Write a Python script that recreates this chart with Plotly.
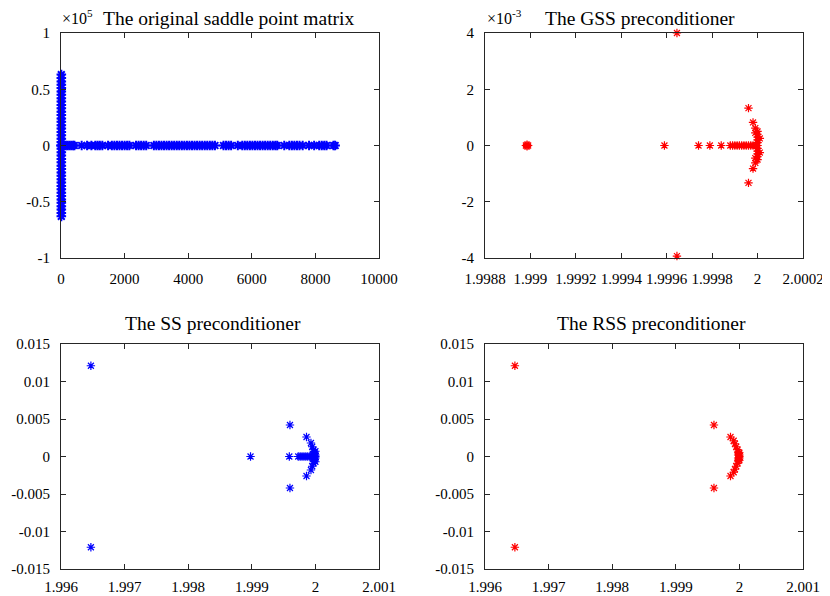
import plotly.graph_objects as go

# ---------------- data ----------------
# Top-left: original saddle point matrix (y in units of 1e5)
orig_imag_x = [10] * 43
orig_imag_y = [-0.63, -0.60, -0.57, -0.54, -0.51, -0.48, -0.45, -0.42, -0.39, -0.36, -0.33,
               -0.30, -0.27, -0.24, -0.21, -0.18, -0.15, -0.12, -0.09, -0.06, -0.03, 0.0,
               0.03, 0.06, 0.09, 0.12, 0.15, 0.18, 0.21, 0.24, 0.27, 0.30, 0.33, 0.36, 0.39,
               0.42, 0.45, 0.48, 0.51, 0.54, 0.57, 0.60, 0.63]
orig_real_x = [0, 50, 100, 150, 200, 260, 320, 380, 420, 650, 820, 955, 1080, 1150, 1220, 1300,
               1480, 1600, 1680, 1760, 1840, 1920, 2000, 2080, 2150, 2360, 2440, 2520, 2600,
               2680, 2920, 3000, 3080, 3160, 3240, 3320, 3400, 3480, 3560, 3640, 3720, 3800,
               3880, 3960, 4040, 4120, 4200, 4280, 4360, 4440, 4520, 4600, 4680, 4760, 4840,
               5110, 5190, 5270, 5350, 5560, 5700, 5780, 5860, 5940, 6020, 6100, 6180, 6260,
               6340, 6420, 6500, 6580, 6660, 6740, 6800, 7020, 7180, 7260, 7340, 7420, 7500,
               7600, 7800, 7960, 8120, 8200, 8280, 8350, 8570, 8620]
orig_real_y = [0] * len(orig_real_x)

# Top-right: GSS preconditioner (y in units of 1e-3)
gss_x = [1.99898, 1.998985, 1.998985, 1.99899, 1.99959, 1.999645, 1.999645,
         1.99974, 1.99979, 1.99984, 1.99988, 1.99989, 1.9999, 1.99991, 1.99992, 1.99993,
         1.99994, 1.99995, 1.99996, 1.99997, 1.99998, 1.99999, 2.0,
         1.99996, 1.99996, 1.99998, 1.99998, 1.99999, 1.99999, 2.0, 2.0, 2.0, 2.0,
         2.0, 2.0, 2.0, 2.0, 2.0, 2.0, 2.00001, 2.00001, 1.99999, 1.99999]
gss_y = [0, 0.03, -0.03, 0, 0, 4.0, -3.93,
         0, 0, 0, 0, 0, 0, 0, 0, 0,
         0, 0, 0, 0, 0, 0, 0,
         1.33, -1.33, 0.82, -0.82, 0.62, -0.62, 0.5, -0.5, 0.4, -0.4,
         0.3, -0.3, 0.2, -0.2, 0.1, -0.1, 0.25, -0.25, 0.45, -0.45]

# Bottom-left: SS preconditioner
ss_x = [1.99647, 1.99647, 1.99898, 1.9996, 1.9996, 1.99959, 1.99986, 1.99986,
        1.99973, 1.99976, 1.99979, 1.99982, 1.99985, 1.99988, 1.99991,
        1.99993, 1.99993, 1.99995, 1.99995, 1.99996, 1.99997, 1.99997,
        1.99998, 1.99998, 1.99999, 1.99999, 2.0, 2.0, 2.0, 2.0, 2.0, 1.99996, 1.99996]
ss_y = [0.0121, -0.0121, 0, 0.0042, -0.0042, 0, 0.0026, -0.0026,
        0, 0, 0, 0, 0, 0, 0,
        0.0018, -0.0018, 0.0013, -0.0013, 0, 0.0009, -0.0009,
        0.0006, -0.0006, 0.0004, -0.0004, 0.0002, -0.0002, 0, 0.0007, -0.0007, 0.0003, -0.0003]

# Bottom-right: RSS preconditioner
rss_x = [1.99647, 1.99647, 1.9996, 1.9996, 1.99986, 1.99986, 1.99991, 1.99991,
         1.99993, 1.99993, 1.99995, 1.99995, 1.99997, 1.99997, 1.99998, 1.99998,
         1.99999, 1.99999, 2.0, 2.0, 2.0, 1.99998, 1.99998, 2.0, 2.0]
rss_y = [0.0121, -0.0121, 0.0042, -0.0042, 0.0026, -0.0026, 0.0021, -0.0021,
         0.0017, -0.0017, 0.0013, -0.0013, 0.0009, -0.0009, 0.0006, -0.0006,
         0.0004, -0.0004, 0.0002, -0.0002, 0, 0.0002, -0.0002, 0.0005, -0.0005]

titles = ["The original saddle point matrix", "The GSS preconditioner",
          "The SS preconditioner", "The RSS preconditioner"]

tl_xticks = [0, 2000, 4000, 6000, 8000, 10000]
tl_yticks = [-1, -0.5, 0, 0.5, 1]
tl_yticktext = ["-1", "-0.5", "0", "0.5", "1"]
tr_xticks = [1.9988, 1.999, 1.9992, 1.9994, 1.9996, 1.9998, 2.0, 2.0002]
tr_xticktext = ["1.9988", "1.999", "1.9992", "1.9994", "1.9996", "1.9998", "2", "2.0002"]
tr_yticks = [-4, -2, 0, 2, 4]
tr_yticktext = ["-4", "-2", "0", "2", "4"]
b_xticks = [1.996, 1.997, 1.998, 1.999, 2.0, 2.001]
b_xticktext = ["1.996", "1.997", "1.998", "1.999", "2", "2.001"]
b_yticks = [-0.015, -0.01, -0.005, 0, 0.005, 0.01, 0.015]
b_yticktext = ["-0.015", "-0.01", "-0.005", "0", "0.005", "0.01", "0.015"]

# ---------------- figure ----------------
OFF = 8                      # page body margin in the browser
W, H = 830 - OFF, 596 - OFF
FONT = "Liberation Serif"
BLUE = "#0000FF"
RED = "#FF0000"


def mk(x, y, color, xa, ya, size=7, width=1.2):
    return go.Scatter(x=x, y=y, mode="markers", xaxis=xa, yaxis=ya, cliponaxis=False,
                      showlegend=False, hoverinfo="skip",
                      marker=dict(symbol="asterisk-open", size=size, color=color,
                                  line=dict(color=color, width=width)))


fig = go.Figure()
fig.add_trace(mk(orig_real_x, orig_real_y, BLUE, "x", "y", size=8, width=2))
fig.add_trace(mk(orig_imag_x, orig_imag_y, BLUE, "x", "y", size=8, width=2))
fig.add_trace(mk(gss_x, gss_y, RED, "x2", "y2"))
fig.add_trace(mk(ss_x, ss_y, BLUE, "x3", "y3"))
fig.add_trace(mk(rss_x, rss_y, RED, "x4", "y4"))


def px_x(p):
    return (p - OFF) / W


def px_y(p):
    return 1 - (p - OFF) / H


dom_x_left = [px_x(61), px_x(379)]
dom_x_right = [px_x(485), px_x(803)]
dom_y_top = [px_y(258), px_y(33)]
dom_y_bot = [px_y(569), px_y(344)]


def axis(dom, rng, tv, tt, anchor, standoff):
    return dict(showline=True, linecolor="#262626", linewidth=1, mirror="ticks",
                ticks="inside", ticklen=5, tickwidth=1, tickcolor="#262626",
                showgrid=False, zeroline=False, automargin=False, tickangle=0,
                tickfont=dict(family=FONT, size=15, color="#000000"),
                domain=dom, range=rng, tickmode="array", tickvals=tv, ticktext=tt,
                anchor=anchor, ticklabelstandoff=standoff)


fig.update_layout(
    width=W, height=H,
    margin=dict(l=0, r=0, t=0, b=0),
    paper_bgcolor="white", plot_bgcolor="white",
    font=dict(family=FONT, color="#000000"),
    xaxis=axis(dom_x_left, [0, 10000], tl_xticks, [str(v) for v in tl_xticks], "y", 7),
    yaxis=axis(dom_y_top, [-1, 1], tl_yticks, tl_yticktext, "x", 7),
    xaxis2=axis(dom_x_right, [1.9988, 2.0002], tr_xticks, tr_xticktext, "y2", 7),
    yaxis2=axis(dom_y_top, [-4, 4], tr_yticks, tr_yticktext, "x2", 7),
    xaxis3=axis(dom_x_left, [1.996, 2.001], b_xticks, b_xticktext, "y3", 4),
    yaxis3=axis(dom_y_bot, [-0.015, 0.015], b_yticks, b_yticktext, "x3", 7),
    xaxis4=axis(dom_x_right, [1.996, 2.001], b_xticks, b_xticktext, "y4", 4),
    yaxis4=axis(dom_y_bot, [-0.015, 0.015], b_yticks, b_yticktext, "x4", 7),
)

title_pos = [(229, 18), (640, 18), (213, 323), (651, 323)]
for t, (cx, cy) in zip(titles, title_pos):
    fig.add_annotation(text=t, x=px_x(cx), y=px_y(cy), xref="paper", yref="paper",
                       xanchor="center", yanchor="middle", showarrow=False,
                       font=dict(family=FONT, size=19.5, color="#000000"))

fig.add_annotation(text="×10<sup>5</sup>", x=px_x(60), y=px_y(17), xref="paper", yref="paper",
                   xanchor="left", yanchor="middle", showarrow=False,
                   font=dict(family=FONT, size=16, color="#000000"))
fig.add_annotation(text="×10<sup>-3</sup>", x=px_x(485), y=px_y(17), xref="paper", yref="paper",
                   xanchor="left", yanchor="middle", showarrow=False,
                   font=dict(family=FONT, size=16, color="#000000"))

fig.write_html("out.html")
